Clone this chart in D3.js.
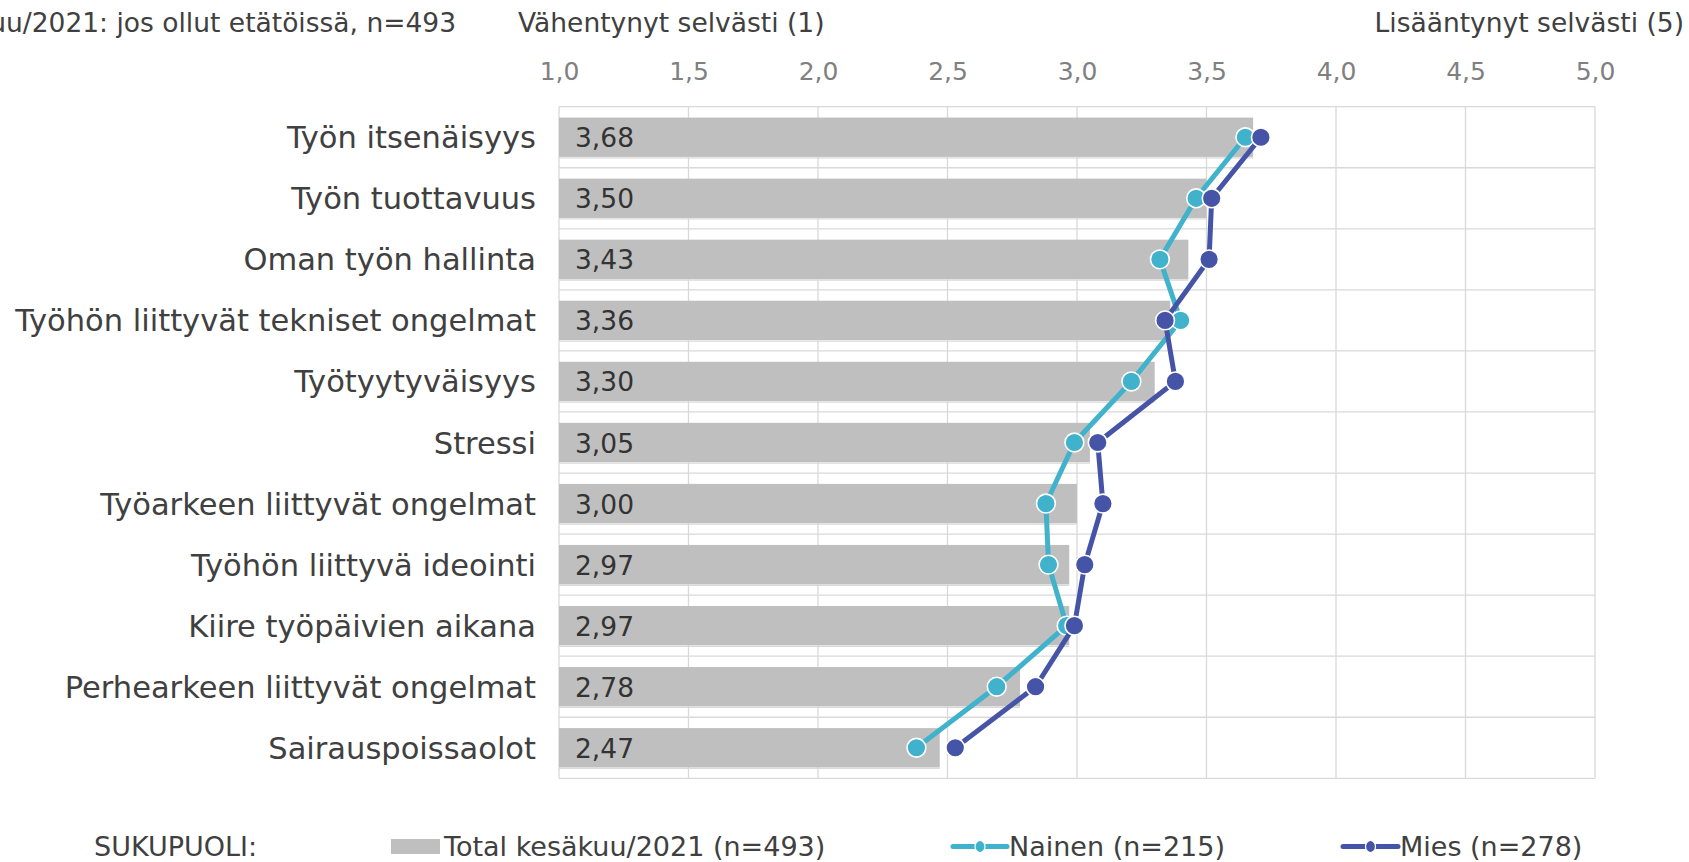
<!DOCTYPE html>
<html>
<head>
<meta charset="utf-8">
<script src="https://cdn.jsdelivr.net/npm/d3@7"></script>
<style>
  html, body { margin: 0; padding: 0; background: #ffffff; }
  svg { display: block; }
  text { font-family: "DejaVu Sans", Verdana, sans-serif; }
</style>
</head>
<body>
<svg id="chart" width="1689" height="862"></svg>
<script>
const categories = [
  "Työn itsenäisyys",
  "Työn tuottavuus",
  "Oman työn hallinta",
  "Työhön liittyvät tekniset ongelmat",
  "Työtyytyväisyys",
  "Stressi",
  "Työarkeen liittyvät ongelmat",
  "Työhön liittyvä ideointi",
  "Kiire työpäivien aikana",
  "Perhearkeen liittyvät ongelmat",
  "Sairauspoissaolot"
];
const totalValues  = [3.68, 3.50, 3.43, 3.36, 3.30, 3.05, 3.00, 2.97, 2.97, 2.78, 2.47];
const nainenValues = [3.65, 3.46, 3.32, 3.40, 3.21, 2.99, 2.88, 2.89, 2.96, 2.69, 2.38];
const miesValues   = [3.71, 3.52, 3.51, 3.34, 3.38, 3.08, 3.10, 3.03, 2.99, 2.84, 2.53];
const tickValues = [1.0, 1.5, 2.0, 2.5, 3.0, 3.5, 4.0, 4.5, 5.0];
const seriesNames = ["Total kesäkuu/2021 (n=493)", "Nainen (n=215)", "Mies (n=278)"];
const titleLeft = "Kesäkuu/2021: jos ollut etätöissä, n=493";
const axisLeftLabel = "Vähentynyt selvästi (1)";
const axisRightLabel = "Lisääntynyt selvästi (5)";
const legendTitle = "SUKUPUOLI:";

const colBar = "#bfbfbf", colNainen = "#40b2cc", colMies = "#4654a7", colGrid = "#d9d9d9";

const svg = d3.select("#chart");
const plot = { left: 559, right: 1595, top: 106.7, bottom: 778.3 };

const x = d3.scaleLinear().domain([1, 5]).range([plot.left, plot.right]);
const y = d3.scaleBand().domain(categories).range([plot.top, plot.bottom]).padding(0);
const barH = y.step() * 0.644;
const cy = d => y(d) + y.bandwidth() / 2;

// vertical gridlines
svg.append("g").selectAll("line").data(tickValues).join("line")
  .attr("x1", d => x(d)).attr("x2", d => x(d))
  .attr("y1", plot.top).attr("y2", plot.bottom)
  .attr("stroke", colGrid).attr("stroke-width", 1.3);

// horizontal band boundaries
const bounds = categories.map(c => y(c)).concat([plot.bottom]);
svg.append("g").selectAll("line").data(bounds).join("line")
  .attr("x1", plot.left).attr("x2", plot.right)
  .attr("y1", d => d).attr("y2", d => d)
  .attr("stroke", colGrid).attr("stroke-width", 1.3);

// secondary faint lines just under bars
svg.append("g").selectAll("line").data(categories).join("line")
  .attr("x1", plot.left).attr("x2", (c, i) => x(totalValues[i]))
  .attr("y1", c => cy(c) + barH / 2 + 1).attr("y2", c => cy(c) + barH / 2 + 1)
  .attr("stroke", colGrid).attr("stroke-width", 1.3);

// bars
svg.append("g").selectAll("rect").data(categories).join("rect")
  .attr("x", x(1))
  .attr("y", c => cy(c) - barH / 2)
  .attr("width", (c, i) => x(totalValues[i]) - x(1))
  .attr("height", barH)
  .attr("fill", colBar);

// value labels
svg.append("g").selectAll("text").data(categories).join("text")
  .attr("x", 575)
  .attr("y", c => cy(c) + 10)
  .attr("font-size", 26.5)
  .attr("fill", "#333333")
  .text((c, i) => d3.format(".2f")(totalValues[i]).replace(".", ","));

// category labels
svg.append("g").selectAll("text").data(categories).join("text")
  .attr("x", 536)
  .attr("y", c => cy(c) + 11)
  .attr("text-anchor", "end")
  .attr("font-size", 30.5)
  .attr("fill", "#404040")
  .text(c => c);

// top axis tick labels
const axis = d3.axisTop(x).tickValues(tickValues).tickSize(0).tickPadding(0)
  .tickFormat(d => d3.format(".1f")(d).replace(".", ","));
const gAxis = svg.append("g").attr("transform", "translate(0,80)").call(axis);
gAxis.select(".domain").remove();
gAxis.selectAll("text").attr("font-size", 25).attr("fill", "#808080")
  .attr("font-family", "DejaVu Sans").attr("dy", 0);

// header texts
svg.append("text").attr("x", 456).attr("y", 32).attr("text-anchor", "end")
  .attr("font-size", 26.5).attr("fill", "#404040").text(titleLeft);
svg.append("text").attr("x", 518).attr("y", 32)
  .attr("font-size", 26.5).attr("fill", "#404040").text(axisLeftLabel);
svg.append("text").attr("x", 1684).attr("y", 32).attr("text-anchor", "end")
  .attr("font-size", 26.5).attr("fill", "#404040").text(axisRightLabel);

// lines and markers
const lineGen = d3.line().x(d => x(d.v)).y(d => cy(d.c));
[[nainenValues, colNainen], [miesValues, colMies]].forEach(([vals, col]) => {
  const pts = categories.map((c, i) => ({ c, v: vals[i] }));
  const g = svg.append("g");
  g.append("path").datum(pts).attr("d", lineGen)
    .attr("fill", "none").attr("stroke", col).attr("stroke-width", 5)
    .attr("stroke-linejoin", "round");
  g.selectAll("circle").data(pts).join("circle")
    .attr("cx", d => x(d.v)).attr("cy", d => cy(d.c)).attr("r", 9.4)
    .attr("fill", col).attr("stroke", "#ffffff").attr("stroke-width", 1.6);
});

// legend
const ly = 856;
svg.append("text").attr("x", 94).attr("y", ly).attr("font-size", 27)
  .attr("fill", "#404040").text(legendTitle);
svg.append("rect").attr("x", 391).attr("y", 839).attr("width", 49).attr("height", 15).attr("fill", colBar);
svg.append("text").attr("x", 444).attr("y", ly).attr("font-size", 27)
  .attr("fill", "#404040").text(seriesNames[0]);

const legendLines = [
  { x0: 953, x1: 1007, col: colNainen, tx: 1009, name: seriesNames[1] },
  { x0: 1343, x1: 1398, col: colMies, tx: 1400, name: seriesNames[2] }
];
legendLines.forEach(l => {
  svg.append("line").attr("x1", l.x0).attr("x2", l.x1).attr("y1", 846.5).attr("y2", 846.5)
    .attr("stroke", l.col).attr("stroke-width", 5).attr("stroke-linecap", "round");
  svg.append("ellipse").attr("cx", (l.x0 + l.x1) / 2).attr("cy", 846.5).attr("rx", 5).attr("ry", 6)
    .attr("fill", l.col).attr("stroke", "#ffffff").attr("stroke-width", 1.2);
  svg.append("text").attr("x", l.tx).attr("y", ly).attr("font-size", 27)
    .attr("fill", "#404040").text(l.name);
});
</script>
</body>
</html>
